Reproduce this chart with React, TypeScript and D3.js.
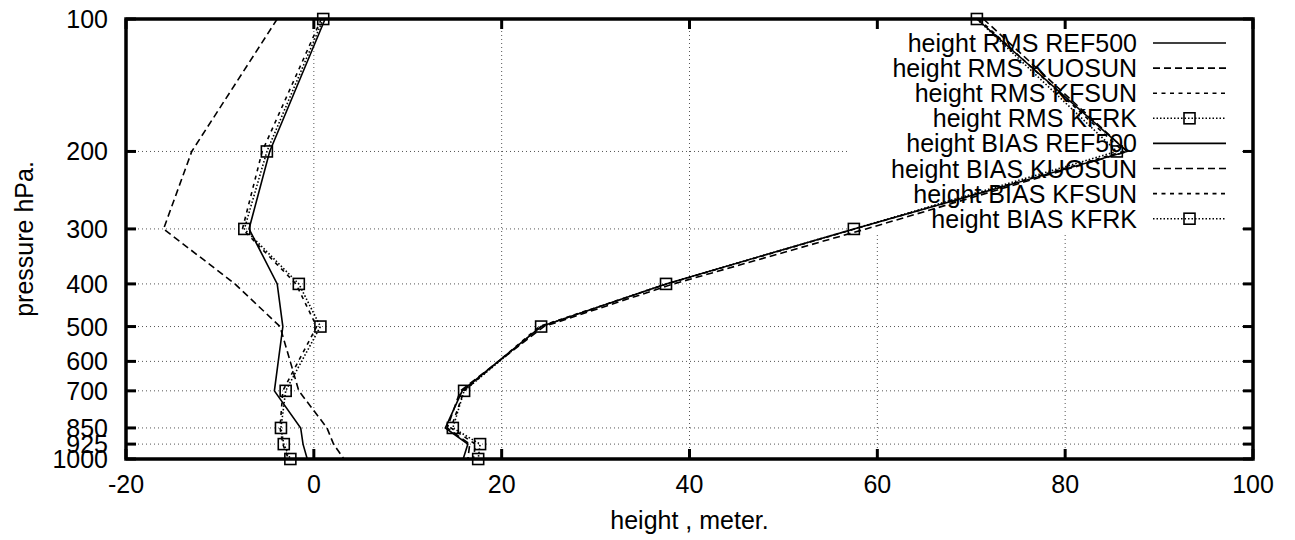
import React from "react";
import * as d3 from "d3";

const pressures = [100, 200, 300, 400, 500, 700, 850, 925, 1000];
const yTicks = [100, 200, 300, 400, 500, 600, 700, 850, 925, 1000];
const xTicks = [-20, 0, 20, 40, 60, 80, 100];

const rmsREF500 = [70.6, 86.6, 57.5, 37.5, 24.2, 15.8, 14.0, 16.4, 15.9];
const rmsKUOSUN = [71.3, 86.6, 58.8, 38.3, 24.5, 15.6, 14.2, 16.6, 16.4];
const rmsKFSUN = [70.8, 86.2, 57.6, 37.6, 24.0, 16.0, 14.6, 17.2, 17.0];
const rmsKFRK = [70.6, 85.5, 57.5, 37.5, 24.2, 16.0, 14.8, 17.7, 17.5];

const biasREF500 = [1.2, -4.7, -6.9, -3.9, -3.3, -4.2, -1.4, -1.15, -0.7];
const biasKUOSUN = [-3.9, -13.0, -16.0, -8.4, -3.6, -1.6, 1.4, 2.1, 3.2];
const biasKFSUN = [0.8, -5.5, -7.6, -1.9, 0.3, -3.3, -3.6, -3.3, -2.7];
const biasKFRK = [1.0, -5.0, -7.4, -1.6, 0.7, -3.0, -3.5, -3.2, -2.5];

const seriesNames = [
  "height RMS REF500",
  "height RMS KUOSUN",
  "height RMS KFSUN",
  "height RMS KFRK",
  "height BIAS REF500",
  "height BIAS KUOSUN",
  "height BIAS KFSUN",
  "height BIAS KFRK",
];
const seriesValues = [rmsREF500, rmsKUOSUN, rmsKFSUN, rmsKFRK, biasREF500, biasKUOSUN, biasKFSUN, biasKFRK];

const L = 126, R = 1253, T = 19, B = 459;
const FONT = "'Liberation Sans', Arial, Helvetica, sans-serif";
const FS = 25;

const styleFor = (i: number) => {
  const k = i % 4;
  if (k === 0) return { dash: "none", marker: false };
  if (k === 1) return { dash: "7,4", marker: false };
  if (k === 2) return { dash: "4,4.5", marker: false };
  return { dash: "1.5,2", marker: true };
};

export default function App() {
  const x = d3.scaleLinear().domain([-20, 100]).range([L, R]);
  const y = d3.scaleLog().domain([100, 1000]).range([T, B]);
  const line = d3
    .line<[number, number]>()
    .x((d) => x(d[0]))
    .y((d) => y(d[1]));

  const legX0 = 1153, legX1 = 1226, legTextX = 1137, legY0 = 43, legDY = 25.1;
  const boxX = 850, boxY = T, boxW = 1241 - 850, boxH = 233 - T;
  const M = 11;

  return (
    <svg
      width={1295}
      height={540}
      style={{ position: "absolute", left: 0, top: 0, background: "#fff" }}
      fontFamily={FONT}
      fontSize={FS}
    >
      <rect x={0} y={0} width={1295} height={540} fill="#fff" />
      {/* grid */}
      <g stroke="#555" strokeWidth={1} strokeDasharray="1,3">
        {yTicks.map((t) => (
          <line key={"gy" + t} x1={L} x2={R} y1={y(t)} y2={y(t)} />
        ))}
        {xTicks.map((t) => (
          <line key={"gx" + t} x1={x(t)} x2={x(t)} y1={T} y2={B} />
        ))}
      </g>
      {/* key background */}
      <rect x={boxX} y={boxY} width={boxW} height={boxH} fill="#fff" />
      {/* border & ticks */}
      <g stroke="#000" strokeWidth={3}>
        {yTicks.map((t) => (
          <g key={"ty" + t}>
            <line x1={L} x2={L + 10} y1={y(t)} y2={y(t)} />
            <line x1={R} x2={R - 10} y1={y(t)} y2={y(t)} />
          </g>
        ))}
        {xTicks.map((t) => (
          <g key={"tx" + t}>
            <line x1={x(t)} x2={x(t)} y1={B} y2={B - 10} />
            <line x1={x(t)} x2={x(t)} y1={T} y2={T + 10} />
          </g>
        ))}
      </g>
      <rect x={L} y={T} width={R - L} height={B - T} fill="none" stroke="#000" strokeWidth={3.5} />
      {/* tick labels */}
      <g fill="#000">
        {yTicks.map((t) => (
          <text key={"ly" + t} x={108} y={y(t)} dy="0.36em" textAnchor="end">
            {t}
          </text>
        ))}
        {xTicks.map((t) => (
          <text key={"lx" + t} x={x(t)} y={493} textAnchor="middle">
            {t}
          </text>
        ))}
        <text x={(L + R) / 2} y={529} textAnchor="middle">
          height , meter.
        </text>
        <text transform={`translate(33,${(T + B) / 2}) rotate(-90)`} textAnchor="middle">
          pressure hPa.
        </text>
      </g>
      {/* data */}
      <g fill="none" stroke="#000" strokeWidth={1.6}>
        {seriesValues.map((vals, i) => {
          const st = styleFor(i);
          const pts = vals.map((v, j) => [v, pressures[j]] as [number, number]);
          return (
            <g key={"s" + i}>
              <path d={line(pts) || ""} strokeDasharray={st.dash} />
              {st.marker &&
                pts.map((p, j) => (
                  <rect key={j} x={x(p[0]) - M / 2} y={y(p[1]) - M / 2} width={M} height={M} strokeWidth={1.6} />
                ))}
            </g>
          );
        })}
      </g>
      {/* legend */}
      <g>
        {seriesNames.map((name, i) => {
          const st = styleFor(i);
          const cy = legY0 + i * legDY;
          return (
            <g key={"lg" + i}>
              <text x={legTextX} y={cy} dy="0.36em" textAnchor="end" fill="#000">
                {name}
              </text>
              <line x1={legX0} x2={legX1} y1={cy} y2={cy} stroke="#000" strokeWidth={1.6} strokeDasharray={st.dash} />
              {st.marker && (
                <rect x={(legX0 + legX1) / 2 - M / 2} y={cy - M / 2} width={M} height={M} fill="none" stroke="#000" strokeWidth={1.6} />
              )}
            </g>
          );
        })}
      </g>
    </svg>
  );
}
